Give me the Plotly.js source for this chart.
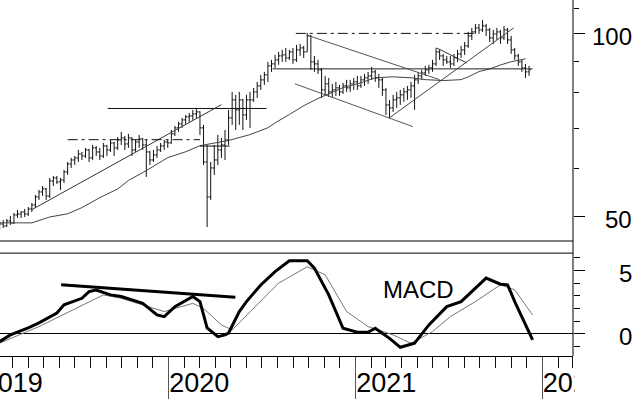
<!DOCTYPE html>
<html><head><meta charset="utf-8">
<script src="https://cdn.plot.ly/plotly-3.0.1.min.js"></script>
<style>
html,body{margin:0;padding:0;overflow:hidden;background:#fff;width:640px;height:399px;}
#chart{position:absolute;left:-30px;top:0;width:670px;height:399px;}
</style>
</head><body><div id="chart"></div>
<script>
// ---- data ----
const firstWeek = '2019-02-04';   // weekly bars, one per week from this date
const openP = [48.33,48.69,48.33,49.25,48.88,50.38,50.57,50.96,50.57,51.54, 52.33,53.94,54.97,55.60,54.14,57.31,57.96,57.09,57.52,59.29, 61.12,62.05,62.53,63.48,63.00,64.45,62.53,64.94,63.96,63.00, 65.43,64.45,66.18,64.94,66.94,67.45,65.93,67.45,64.45,66.43, 67.19,65.68,63.96,62.05,63.24,64.45,65.43,66.43,66.18,68.48, 70.06,71.13,72.21,73.03,73.31,73.87,74.43,70.06,61.58,53.94, 60.20,62.05,64.45,65.68,66.94,72.76,77.89,74.99,77.89,73.59, 77.89,77.89,80.29,82.14,84.02,85.63,88.60,89.27,90.63,92.01, 92.36,91.32,93.41,90.63,94.12,94.84,93.41,99.25,89.95,89.27, 87.26,80.90,82.76,80.29,80.90,81.52,80.29,82.14,81.52,82.76, 83.39,82.14,84.02,84.66,85.30,86.61,84.66,84.02,80.90,76.43, 75.57,77.89,78.49,79.39,80.29,80.90,82.14,84.02,85.30,86.28, 87.26,87.93,89.27,93.41,92.01,90.63,89.95,89.27,91.32,92.71, 94.12,95.56,99.25,100.76,102.29,101.53,103.07,101.53,98.50,100.0, 100.76,98.50,101.53,97.75,94.12,92.01,89.95,87.93,86.61];
const highP = [49.25,49.44,49.62,50.19,50.76,51.34,51.15,51.54,51.93,52.73, 54.35,55.39,56.23,55.81,57.96,58.40,58.40,57.96,59.75,61.58, 62.53,63.00,64.45,63.96,64.94,64.70,65.68,65.43,64.94,66.18, 65.68,66.94,66.43,67.70,69.00,67.96,68.48,67.60,66.94,68.22, 67.45,66.94,64.20,64.45,65.43,66.18,66.94,66.94,69.52,70.59, 71.66,72.76,73.59,74.15,74.99,75.57,74.60,70.86,65.68,61.58, 65.68,68.22,67.45,69.52,74.99,80.29,79.39,80.29,78.20,79.39, 80.29,81.52,83.39,85.63,86.61,89.95,90.63,92.36,93.41,94.12, 94.84,94.12,94.84,95.92,96.28,95.56,100.38,99.60,92.01,90.63, 87.93,85.30,84.66,82.76,83.39,82.45,83.07,84.02,84.02,84.66, 85.30,85.30,85.95,86.61,88.26,87.26,85.95,84.66,81.52,77.89, 79.39,80.29,80.90,81.52,82.14,83.39,85.63,86.61,87.26,88.60, 88.93,90.63,94.84,94.12,92.71,92.01,92.01,92.71,94.12,95.56, 97.01,100.76,102.29,103.85,103.85,105.44,103.85,102.29,101.53,102.29, 101.53,103.07,102.29,99.25,94.84,92.71,90.63,89.27,88.60];
const lowP = [47.78,47.96,48.14,48.51,48.69,49.81,49.81,50.00,50.19,50.96, 51.74,53.33,54.14,53.33,53.73,56.23,56.66,55.39,56.87,58.63, 60.20,60.89,61.58,62.05,62.53,61.58,62.05,63.00,62.05,62.53, 63.00,63.96,63.00,64.45,65.68,64.45,64.94,63.00,63.96,64.94, 64.45,58.18,60.89,61.58,62.53,63.96,64.45,64.94,66.00,67.96, 69.00,70.06,71.13,71.66,72.21,72.76,68.22,60.89,48.14,53.33, 58.63,60.89,62.53,62.05,65.68,70.86,69.52,70.86,69.52,72.21, 70.06,77.31,78.49,80.90,82.45,83.39,86.61,87.93,88.93,89.95, 89.95,90.63,89.27,89.95,92.01,91.32,93.41,87.26,86.61,85.95, 78.49,79.09,78.79,78.49,79.09,79.09,79.69,80.29,80.29,80.90, 80.90,81.52,82.14,82.76,84.02,83.39,81.52,79.09,73.59,72.76, 74.43,75.57,76.43,77.31,77.89,78.49,74.99,82.76,84.02,85.30, 85.95,86.61,88.60,90.63,88.60,89.27,87.93,88.60,89.95,91.32, 92.36,94.84,97.75,100.0,100.0,100.76,99.25,97.01,96.28,97.75, 96.28,97.75,96.28,92.71,90.63,88.60,86.61,84.66,85.30];
const closeP = [48.69,48.33,49.25,48.88,50.38,50.57,50.96,50.57,51.54,52.33, 53.94,54.97,55.60,54.14,57.31,57.96,57.09,57.52,59.29,61.12, 62.05,62.53,63.48,63.00,64.45,62.53,64.94,63.96,63.00,65.43, 64.45,66.18,64.94,66.94,67.45,65.93,67.45,64.45,66.43,67.19, 65.68,63.96,62.05,63.24,64.45,65.43,66.43,66.18,68.48,70.06, 71.13,72.21,73.03,73.31,73.87,74.43,70.06,61.58,53.94,60.20, 62.05,64.45,65.68,66.94,72.76,77.89,74.99,77.89,73.59,77.89, 77.89,80.29,82.14,84.02,85.63,88.60,89.27,90.63,92.01,92.36, 91.32,93.41,90.63,94.12,94.84,93.41,99.25,89.95,89.27,87.26, 80.90,82.76,80.29,80.90,81.52,80.29,82.14,81.52,82.76,83.39, 82.14,84.02,84.66,85.30,86.61,84.66,84.02,80.90,76.43,75.57, 77.89,78.49,79.39,80.29,80.90,82.14,84.02,85.30,86.28,87.26, 87.93,89.27,93.41,92.01,90.63,89.95,89.27,91.32,92.71,94.12, 95.56,99.25,100.76,102.29,101.53,103.07,101.53,98.50,100.0,100.76, 98.50,101.53,97.75,94.12,92.01,89.95,87.93,86.61,87.26];

// moving average (week index, value)
const maWeek = [0,9,14,19,23,28,33,36,41,47,52,56,64,70,75,77,81,85,89,92,96,101,105,110,115,119,124,129,131,134,137,140,143,147];
const maVal  = [48.9,48.9,50.0,50.6,51.8,53.8,55.6,57.4,59.6,62.6,64.0,65.5,66.8,68.3,70.1,71.4,73.7,76.2,78.3,79.8,81.6,83.1,84.7,85.0,84.7,84.1,83.8,84.1,85.0,86.7,87.6,88.9,90.0,91.0];

// MACD and signal (week index, value)
const macdWeek = [0,3,8,11,16,18,23,25,27,31,34,40,44,46,49,54,56,57,58,61,63,64,67,69,73,77,81,86,88,92,94,96,100,103,105,109,112,116,120,125,129,133,136,140,142,144,147,149];
const macdVal  = [-0.63,-0.1,0.45,0.85,1.64,2.28,2.8,3.33,3.46,3.07,2.94,2.4,1.48,1.35,2.14,2.94,2.54,1.48,0.45,-0.24,-0.1,0.05,1.75,2.54,3.86,4.92,5.77,5.77,5.19,3.07,1.75,0.43,0.11,0.11,0.43,-0.37,-1.08,-0.76,0.69,2.14,2.54,3.6,4.4,3.92,3.87,2.54,0.69,-0.5];
const sigWeek = [0,11,29,34,46,54,57,62,65,71,78,86,91,97,103,110,115,121,126,133,140,144,149];
const sigVal  = [-0.75,0.56,3.07,2.8,1.75,2.4,2.0,0.69,0.3,2.03,4.0,5.3,4.66,1.75,0.56,-0.1,-0.76,0.16,1.35,2.54,3.87,3.47,1.48];

// drawn trend lines (week index pairs, price pairs)
const riseLine1Wk = [9, 62],        riseLine1Val = [51.4, 76.5];
const dashLine1Wk = [19, 56],       dashLine1Val = [67.0, 67.0];
const flatLine1Wk = [56, 64.3],     flatLine1Val = [65.4, 65.4];
const flatLine2Wk = [30.2, 74.6],   flatLine2Val = [75.4, 75.4];
const dashLine2Wk = [82.8, 133.6],  dashLine2Val = [100.2, 100.2];
const flatLine3Wk = [76.3, 149],    flatLine3Val = [87.6, 87.6];
const chanUpWk = [85.8, 123],       chanUpVal = [99.6, 84.1];
const chanLoWk = [82.5, 115.5],     chanLoVal = [82.8, 70.4];
const riseLine2Wk = [109, 143.7],   riseLine2Val = [72.8, 102.3];
const shortLineWk = [122.2, 130.6], shortLineVal = [94.8, 89.6];
const macdTrendWk = [17.2, 65.9],   macdTrendVal = [3.87, 2.89];

const priceTicks = [50, 100];
const priceMinor = [60, 70, 80, 90, 110];
const macdTicks = [0, 5];
const macdMinor = [-1, 1, 2, 3, 4, 6];

// ---- helpers ----
const t0 = Date.parse(firstWeek + 'T00:00:00Z');
function wk(i){ return new Date(t0 + i*7*86400000).toISOString().replace('T',' ').slice(0,19); }
const dates = openP.map((_, i) => wk(i));

function seg(wks, vals, color, width, dash, yax, xax){
  return {type:'scatter', mode:'lines', x: wks.map(wk), y: vals, yaxis: yax || 'y', xaxis: xax || 'x',
    line:{color: color, width: width, dash: dash || 'solid'}, hoverinfo:'skip', showlegend:false};
}
const DD = '10px,4px,3px,4px';

const traces = [
  {type:'ohlc', x: dates, open: openP, high: highP, low: lowP, close: closeP, yaxis:'y',
   increasing:{line:{color:'#111', width:1}}, decreasing:{line:{color:'#111', width:1}},
   tickwidth:0.45, hoverinfo:'skip', showlegend:false},
  seg(maWeek, maVal, '#444', 1),
  seg(riseLine1Wk, riseLine1Val, '#333', 1),
  seg(dashLine1Wk, dashLine1Val, '#111', 1, DD),
  seg(flatLine1Wk, flatLine1Val, '#111', 1),
  seg(flatLine2Wk, flatLine2Val, '#111', 1),
  seg(dashLine2Wk, dashLine2Val, '#111', 1, DD),
  seg(flatLine3Wk, flatLine3Val, '#222', 1),
  seg(chanUpWk, chanUpVal, '#555', 1),
  seg(chanLoWk, chanLoVal, '#555', 1),
  seg(riseLine2Wk, riseLine2Val, '#444', 1),
  seg(shortLineWk, shortLineVal, '#333', 1),
  seg(sigWeek, sigVal, '#777', 1, 'solid', 'y2'),
  seg(macdWeek, macdVal, '#000', 3, 'solid', 'y2'),
  seg(macdTrendWk, macdTrendVal, '#000', 3, 'solid', 'y2', 'x2')
];

const FONT = 'Liberation Sans, Arial, sans-serif';
const annotations = [];
priceTicks.forEach(v => annotations.push({xref:'paper', x:1, xshift:61, xanchor:'right', yref:'y', y:Math.log10(v), yshift:-3, yanchor:'middle', text:String(v), showarrow:false, font:{size:24, family:FONT, color:'#000'}}));
macdTicks.forEach(v => annotations.push({xref:'paper', x:1, xshift:61, xanchor:'right', yref:'y2', y:v, yshift:-3, yanchor:'middle', text:String(v), showarrow:false, font:{size:24, family:FONT, color:'#000'}}));
annotations.push({xref:'x', x:wk(117), yref:'y2', y:3.47, text:'MACD', showarrow:false, xanchor:'center', yanchor:'middle', font:{size:24, family:FONT, color:'#000'}});

const xRange = ['2018-12-08','2022-03-02'];
const layout = {
  width:670, height:399,
  margin:{l:0, r:67, t:0, b:43, pad:0},
  paper_bgcolor:'#fff', plot_bgcolor:'#fff',
  showlegend:false, hovermode:false,
  font:{family:FONT, color:'#000'},
  xaxis:{type:'date', range:xRange, anchor:'y2',
    rangeslider:{visible:false}, showgrid:false, zeroline:false,
    showline:true, linecolor:'#000', linewidth:1,
    tickmode:'linear', tick0:'2019-01-01', dtick:'M1',
    ticks:'outside', ticklen:11, tickwidth:1, tickcolor:'#111', showticklabels:false
  },
  xaxis2:{type:'date', range:xRange, anchor:'y2', overlaying:'x', side:'bottom',
    showgrid:false, zeroline:false, showline:false,
    tickmode:'linear', tick0:'2019-01-01', dtick:'M12', tickformat:'%Y',
    ticks:'outside', ticklen:43, tickwidth:1, tickcolor:'#555',
    ticklabelposition:'outside right', ticklabelstandoff:3,
    tickfont:{size:27, family:FONT, color:'#000'}
  },
  yaxis:{type:'log', domain:[0.323,1], range:[Math.log10(45.65), Math.log10(113.7)], side:'right', anchor:'x',
    showgrid:false, zeroline:false, showline:false,
    tickmode:'array', tickvals:priceTicks, ticks:'outside', ticklen:11, tickwidth:1, tickcolor:'#000', showticklabels:false,
    minor:{tickmode:'array', tickvals:priceMinor, ticks:'outside', ticklen:5, tickwidth:1, tickcolor:'#000', showgrid:false}
  },
  yaxis2:{domain:[0,0.289], range:[-1.77,6.38], side:'right', anchor:'x',
    showgrid:false, zeroline:true, zerolinecolor:'#000', zerolinewidth:1, showline:false,
    tickmode:'array', tickvals:macdTicks, ticks:'outside', ticklen:11, tickwidth:1, tickcolor:'#000', showticklabels:false,
    minor:{tickmode:'array', tickvals:macdMinor, ticks:'outside', ticklen:6, tickwidth:1, tickcolor:'#000', showgrid:false}
  },
  shapes:[
    {type:'line', xref:'paper', yref:'paper', x0:1, x1:1, y0:0, y1:1, line:{color:'#000', width:1}},
    {type:'line', xref:'paper', yref:'paper', x0:0, x1:1, y0:0.323, y1:0.323, line:{color:'#000', width:1}},
    {type:'line', xref:'paper', yref:'paper', x0:0, x1:1, y0:0.289, y1:0.289, line:{color:'#000', width:1}},
    {type:'rect', xref:'paper', yref:'paper', x0:1.0025, x1:1.2, y0:-0.2, y1:-0.008, layer:'above', line:{width:0}, fillcolor:'#fff'}
  ],
  annotations: annotations
};

Plotly.newPlot('chart', traces, layout, {staticPlot:true, displayModeBar:false});
</script>
</body></html>
